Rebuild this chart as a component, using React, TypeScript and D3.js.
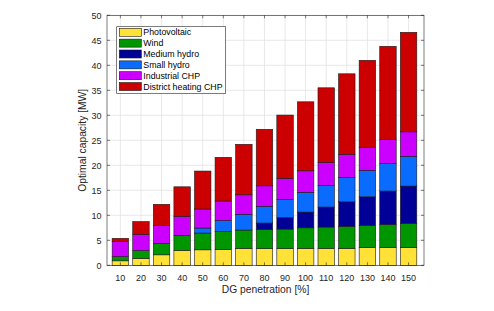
import React from 'react';
import * as d3 from 'd3';

// DG penetration levels [%]
const penetration = [10, 20, 30, 40, 50, 60, 70, 80, 90, 100, 110, 120, 130, 140, 150];

// optimal capacity per technology [MW]
const photovoltaic = [0.9, 1.4, 2.1, 3.0, 3.1, 3.2, 3.4, 3.35, 3.35, 3.4, 3.4, 3.4, 3.6, 3.6, 3.6];
const wind = [0.85, 1.55, 2.3, 3.0, 3.35, 3.55, 3.65, 3.85, 3.9, 4.1, 4.25, 4.4, 4.4, 4.55, 4.8];
const mediumHydro = [0, 0, 0, 0, 0, 0, 0, 1.25, 2.3, 3.15, 4.0, 4.9, 5.7, 6.7, 7.45];
const smallHydro = [0, 0, 0, 0, 1.0, 2.2, 3.15, 3.35, 3.65, 3.95, 4.35, 4.9, 5.3, 5.55, 5.95];
const industrialCHP = [3.0, 3.25, 3.55, 3.8, 3.8, 3.9, 3.9, 4.1, 4.2, 4.3, 4.6, 4.6, 4.6, 4.8, 4.9];
const districtCHP = [0.65, 2.55, 4.25, 5.9, 7.6, 8.75, 10.1, 11.3, 12.65, 13.8, 14.9, 16.1, 17.4, 18.6, 19.9];

const seriesNames = ['Photovoltaic', 'Wind', 'Medium hydro', 'Small hydro', 'Industrial CHP', 'District heating CHP'];
const seriesColors = ['#ffe138', '#009600', '#000096', '#0a6cff', '#cc00ff', '#cc0000'];
const seriesValues = [photovoltaic, wind, mediumHydro, smallHydro, industrialCHP, districtCHP];

const yTicks = [0, 5, 10, 15, 20, 25, 30, 35, 40, 45, 50];

const W = 494;
const H = 311;
const plot = { left: 107, right: 424, top: 15.3, bottom: 265.3 };
const font = '"Liberation Sans", Arial, Helvetica, sans-serif';

export default function App() {
  const x = d3.scaleLinear().domain([3.5, 157.5]).range([plot.left, plot.right]);
  const y = d3.scaleLinear().domain([0, 50]).range([plot.bottom, plot.top]);
  const barW = x(8) - x(0);

  const rows = penetration.map((p, i) => {
    const row: Record<string, number> = { p };
    seriesNames.forEach((name, s) => (row[name] = seriesValues[s][i]));
    return row;
  });
  const stacked = d3.stack<Record<string, number>>().keys(seriesNames)(rows);

  const axisColor = '#262626';
  const gridColor = '#e0e0e0';
  const tickLen = 3;

  const legend = { x: 116.7, y: 26.7, w: 109, h: 66.6, rowH: 10.85 };

  return (
    <svg width={W} height={H} style={{ position: 'absolute', left: 0, top: 0, background: '#fff' }} fontFamily={font}>
      {/* grid */}
      {penetration.map(p => (
        <line key={'gx' + p} x1={x(p)} x2={x(p)} y1={plot.top} y2={plot.bottom} stroke={gridColor} strokeWidth={0.7} />
      ))}
      {yTicks.map(t => (
        <line key={'gy' + t} x1={plot.left} x2={plot.right} y1={y(t)} y2={y(t)} stroke={gridColor} strokeWidth={0.7} />
      ))}

      {/* bars */}
      {stacked.map((layer, s) => (
        <g key={layer.key} fill={seriesColors[s]} stroke="#1a1a1a" strokeWidth={0.6}>
          {layer.map((d, i) =>
            d[1] - d[0] > 0 ? (
              <rect
                key={i}
                x={x(penetration[i]) - barW / 2}
                y={y(d[1])}
                width={barW}
                height={y(d[0]) - y(d[1])}
              />
            ) : null
          )}
        </g>
      ))}

      {/* axes box and ticks */}
      <rect x={plot.left} y={plot.top} width={plot.right - plot.left} height={plot.bottom - plot.top} fill="none" stroke={axisColor} strokeWidth={0.6} />
      {penetration.map(p => (
        <g key={'tx' + p} stroke={axisColor} strokeWidth={0.6}>
          <line x1={x(p)} x2={x(p)} y1={plot.bottom} y2={plot.bottom - tickLen} />
          <line x1={x(p)} x2={x(p)} y1={plot.top} y2={plot.top + tickLen} />
        </g>
      ))}
      {yTicks.map(t => (
        <g key={'ty' + t} stroke={axisColor} strokeWidth={0.6}>
          <line x1={plot.left} x2={plot.left + tickLen} y1={y(t)} y2={y(t)} />
          <line x1={plot.right} x2={plot.right - tickLen} y1={y(t)} y2={y(t)} />
        </g>
      ))}

      {/* tick labels */}
      {penetration.map(p => (
        <text key={'lx' + p} x={x(p)} y={280.5} textAnchor="middle" fontSize={9} fill={axisColor}>
          {p}
        </text>
      ))}
      {yTicks.map(t => (
        <text key={'ly' + t} x={101.5} y={y(t) + 3.2} textAnchor="end" fontSize={9} fill={axisColor}>
          {t}
        </text>
      ))}

      {/* axis labels */}
      <text x={(plot.left + plot.right) / 2} y={292.5} textAnchor="middle" fontSize={10.3} fill={axisColor}>
        DG penetration [%]
      </text>
      <text
        transform={`translate(86,${(plot.top + plot.bottom) / 2}) rotate(-90)`}
        textAnchor="middle"
        fontSize={10.3}
        fill={axisColor}
      >
        Optimal capacity [MW]
      </text>

      {/* legend */}
      <rect x={legend.x} y={legend.y} width={legend.w} height={legend.h} fill="#fff" stroke={axisColor} strokeWidth={0.6} />
      {seriesNames.map((name, s) => {
        const cy = legend.y + 5.6 + s * legend.rowH;
        return (
          <g key={name}>
            <rect x={legend.x + 2.6} y={cy - 4} width={22} height={8} fill={seriesColors[s]} stroke="#1a1a1a" strokeWidth={0.6} />
            <text x={legend.x + 26.6} y={cy + 3.1} fontSize={8.8} fill="#000">
              {name}
            </text>
          </g>
        );
      })}
    </svg>
  );
}
